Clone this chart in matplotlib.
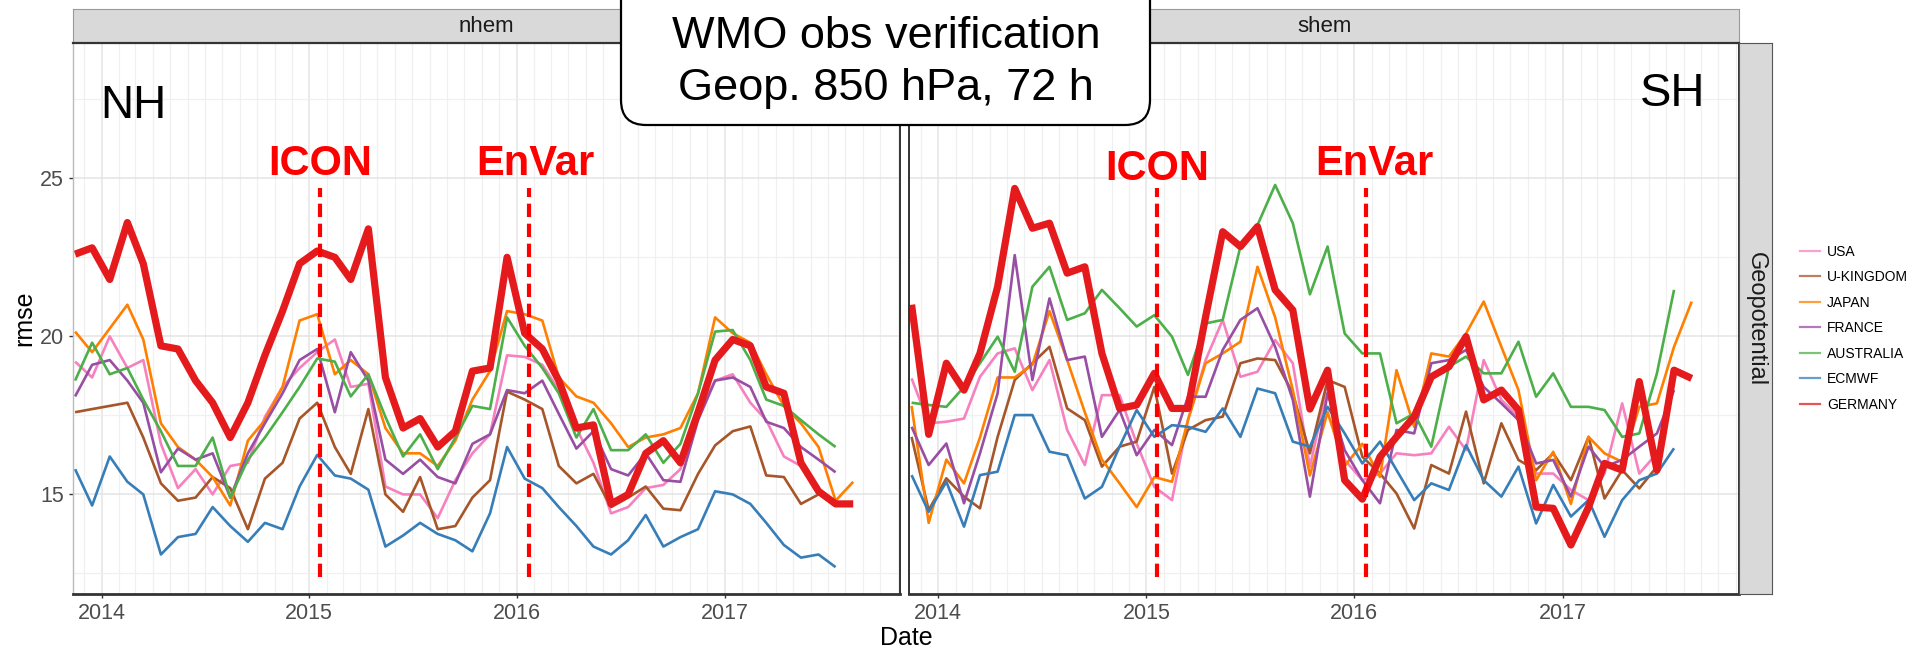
import matplotlib
matplotlib.use("Agg")
import matplotlib.pyplot as plt
import matplotlib.dates as mdates
from matplotlib.lines import Line2D
from matplotlib.patches import FancyBboxPatch
from matplotlib.ticker import FixedLocator
import pandas as pd

plt.rcParams['font.family'] = ['Liberation Sans', 'DejaVu Sans']

# monthly verification scores, Nov 2013 - Aug 2017
months = pd.date_range('2013-11-01', periods=46, freq='MS') + pd.Timedelta(days=14)

countries = ['USA', 'U-KINGDOM', 'JAPAN', 'FRANCE', 'AUSTRALIA', 'ECMWF', 'GERMANY']
colors = ['#F781BF', '#A65628', '#FF7F00', '#984EA3', '#4DAF4A', '#377EB8', '#E41A1C']

nhem_usa = [19.2, 18.7, 20.0, 19.0, 19.25, 16.6, 15.2, 15.8, 15.0, 15.9,
            16.0, 17.45, 18.4, 19.0, 19.5, 19.9, 18.4, 18.5, 15.25, 15.0,
            15.0, 14.25, 15.45, 16.3, 16.9, 19.4, 19.35, 19.1, 18.3, 17.1,
            16.0, 14.4, 14.6, 15.2, 15.3, 15.8, 17.55, 18.6, 18.8, 17.9,
            17.35, 16.2, 15.9, 15.2]
nhem_uk = [17.6, 17.7, 17.8, 17.9, 16.8, 15.35, 14.8, 14.9, 15.55, 15.2,
           13.9, 15.5, 16.0, 17.4, 17.9, 16.5, 15.65, 17.7, 15.0, 14.45,
           15.55, 13.9, 14.0, 14.9, 15.45, 18.25, 18.0, 17.7, 15.9, 15.35,
           15.65, 14.6, 14.9, 15.25, 14.55, 14.5, 15.65, 16.55, 17.0, 17.15,
           15.6, 15.55, 14.7, 15.0]
nhem_japan = [20.15, 19.5, 20.25, 21.0, 19.9, 17.25, 16.5, 16.1, 15.55, 14.65,
              16.7, 17.35, 18.4, 20.5, 20.7, 18.8, 19.25, 18.8, 17.1, 16.3,
              16.3, 15.9, 16.7, 18.0, 18.9, 20.8, 20.7, 20.5, 18.7, 18.1,
              17.9, 17.25, 16.5, 16.8, 16.9, 17.1, 18.2, 20.6, 20.1, 19.8,
              18.8, 17.8, 17.25, 16.5, 14.8, 15.4]
nhem_france = [18.1, 19.1, 19.25, 18.6, 17.9, 15.7, 16.45, 16.1, 16.3, 14.9,
               16.3, 17.25, 18.2, 19.25, 19.6, 17.6, 19.5, 18.6, 16.1, 15.65,
               16.1, 15.55, 15.35, 16.6, 16.9, 18.3, 18.2, 18.6, 17.55, 16.45,
               17.0, 15.8, 15.6, 16.3, 15.45, 15.4, 17.35, 18.6, 18.7, 18.4,
               17.3, 17.1, 16.5, 16.1, 15.7]
nhem_australia = [18.6, 19.8, 18.8, 19.0, 18.0, 17.0, 15.9, 15.9, 16.8, 14.9,
                  16.1, 16.8, 17.6, 18.4, 19.3, 19.2, 18.1, 18.8, 17.45, 16.2,
                  16.9, 15.8, 16.8, 17.8, 17.7, 20.6, 19.7, 19.0, 18.2, 16.8,
                  17.7, 16.4, 16.4, 16.9, 16.0, 16.6, 18.2, 20.15, 20.2, 19.25,
                  18.0, 17.8, 17.35, 16.9, 16.5]
nhem_ecmwf = [15.8, 14.65, 16.2, 15.4, 15.0, 13.1, 13.65, 13.75, 14.6, 14.0,
              13.5, 14.1, 13.9, 15.25, 16.25, 15.6, 15.5, 15.15, 13.35, 13.7,
              14.1, 13.75, 13.55, 13.2, 14.4, 16.5, 15.5, 15.2, 14.6, 14.0,
              13.35, 13.1, 13.55, 14.35, 13.35, 13.65, 13.9, 15.1, 15.0, 14.7,
              14.1, 13.4, 13.0, 13.1, 12.7]
nhem_germany = [22.6, 22.8, 21.8, 23.6, 22.3, 19.7, 19.6, 18.6, 17.9, 16.8,
                17.9, 19.4, 20.8, 22.3, 22.7, 22.5, 21.8, 23.4, 18.7, 17.1,
                17.4, 16.5, 17.0, 18.9, 19.0, 22.5, 20.1, 19.6, 18.6, 17.1,
                17.2, 14.7, 15.0, 16.3, 16.7, 16.0, 17.6, 19.25, 19.9, 19.7,
                18.4, 18.2, 16.0, 15.1, 14.7, 14.7]

shem_usa = [18.67, 17.25, 17.3, 17.4, 18.72, 19.46, 19.62, 18.3, 19.25, 17.04,
            15.93, 18.14, 18.14, 16.61, 15.24, 14.82, 17.35, 19.25, 20.52, 18.72,
            18.88, 19.88, 19.15, 15.88, 18.4, 16.09, 15.45, 15.66, 16.3, 16.24,
            16.3, 17.14, 16.4, 19.25, 17.99, 17.46, 15.66, 15.66, 15.14, 14.82,
            15.66, 17.88, 15.66, 16.3]
shem_uk = [16.82, 14.5, 15.51, 14.93, 14.56, 16.82, 18.62, 19.15, 19.67, 17.72,
           17.35, 15.88, 16.51, 16.67, 18.4, 15.66, 17.04, 17.35, 17.46, 19.15,
           19.3, 19.25, 18.2, 16.3, 18.62, 18.4, 16.19, 15.66, 15.03, 13.92,
           15.93, 15.66, 17.62, 15.35, 17.25, 16.09, 15.77, 16.3, 15.45, 16.82,
           14.87, 15.77, 15.19, 15.88]
shem_japan = [17.8, 14.1, 16.1, 15.35, 16.8, 18.7, 18.7, 19.1, 20.8, 19.25,
              17.6, 16.1, 15.35, 14.6, 15.55, 15.4, 17.35, 19.15, 19.46, 19.83,
              22.2, 20.6, 18.3, 15.6, 17.6, 15.9, 16.6, 15.55, 18.93, 17.14,
              19.46, 19.36, 20.09, 21.1, 19.67, 18.3, 15.45, 16.35, 14.7, 16.82,
              16.3, 16.03, 17.77, 17.88, 19.67, 21.1]
shem_france = [17.14, 15.93, 16.61, 14.72, 16.3, 18.2, 22.57, 18.62, 21.2, 19.25,
               19.36, 16.82, 17.67, 16.24, 17.04, 16.56, 18.09, 18.09, 19.57, 20.52,
               20.89, 19.67, 17.99, 14.93, 18.2, 16.4, 15.45, 14.72, 17.04, 16.93,
               19.15, 19.25, 19.57, 18.4, 17.88, 17.35, 15.98, 16.09, 14.93, 16.51,
               15.88, 16.09, 16.51, 16.93, 18.3]
shem_australia = [17.9, 17.83, 17.77, 18.4, 19.15, 19.99, 18.88, 21.57, 22.2, 20.52,
                  20.73, 21.47, 20.89, 20.31, 20.67, 19.99, 18.78, 20.41, 20.52, 22.84,
                  23.52, 24.79, 23.58, 21.33, 22.84, 20.09, 19.46, 19.46, 17.25, 17.56,
                  16.51, 19.04, 19.36, 18.83, 18.83, 19.83, 18.09, 18.83, 17.77, 17.77,
                  17.67, 16.82, 16.93, 18.83, 21.47]
shem_ecmwf = [15.61, 14.45, 15.4, 13.98, 15.61, 15.72, 17.51, 17.51, 16.35, 16.24,
              14.87, 15.24, 16.51, 17.67, 16.82, 17.19, 17.14, 16.98, 17.72, 16.82,
              18.35, 18.2, 16.67, 16.51, 17.77, 16.93, 15.98, 16.67, 15.77, 14.82,
              15.35, 15.14, 16.56, 15.45, 14.93, 15.88, 14.08, 15.3, 14.3, 14.82,
              13.66, 14.82, 15.45, 15.66, 16.46]
shem_germany = [21.0, 16.9, 19.15, 18.3, 19.46, 21.57, 24.68, 23.42, 23.58, 22.0,
                22.2, 19.46, 17.72, 17.83, 18.83, 17.72, 17.72, 20.62, 23.31, 22.84,
                23.47, 21.47, 20.83, 17.7, 18.93, 15.45, 14.85, 16.19, 16.82, 17.46,
                18.72, 19.04, 19.99, 17.99, 18.3, 17.67, 14.6, 14.56, 13.4, 14.6,
                15.98, 15.77, 18.57, 15.77, 18.93, 18.67]

nhem = [nhem_usa, nhem_uk, nhem_japan, nhem_france, nhem_australia, nhem_ecmwf, nhem_germany]
shem = [shem_usa, shem_uk, shem_japan, shem_france, shem_australia, shem_ecmwf, shem_germany]

# model changes at DWD
events = ['ICON', 'EnVar']
event_dates = [pd.Timestamp('2015-01-20'), pd.Timestamp('2016-01-22')]
event_range = (12.4, 24.7)

W, H = 1909, 647
fig = plt.figure(figsize=(W / 100, H / 100), dpi=100)


def px_axes(x0, y0, x1, y1):
    # pixel box measured from top-left corner
    return fig.add_axes([x0 / W, 1 - y1 / H, (x1 - x0) / W, (y1 - y0) / H])


ax_n = px_axes(72.8, 43.3, 900.4, 594)
ax_s = px_axes(909.3, 43.3, 1739, 594)

for ax, data, name in [(ax_n, nhem, 'nhem'), (ax_s, shem, 'shem')]:
    ax.set_xlim(pd.Timestamp('2013-11-11'), pd.Timestamp('2017-11-06'))
    ax.set_ylim(11.85, 29.27)
    ax.xaxis.set_major_locator(mdates.YearLocator())
    ax.xaxis.set_major_formatter(mdates.DateFormatter('%Y'))
    ax.xaxis.set_minor_locator(mdates.MonthLocator())
    ax.yaxis.set_major_locator(FixedLocator([15, 20, 25]))
    ax.yaxis.set_minor_locator(FixedLocator([12.5, 17.5, 22.5, 27.5]))
    ax.grid(which='major', color='#E4E4E4', lw=1.1)
    ax.grid(which='minor', color='#F0F0F0', lw=0.9)
    ax.set_axisbelow(True)
    ax.tick_params(which='major', length=2.9, width=1, color='#333333',
                   labelsize=15.5, labelcolor='#4D4D4D', pad=3.6)
    ax.tick_params(which='minor', length=0)
    for side in ['top', 'right', 'bottom', 'left']:
        ax.spines[side].set_color('#333333')
        ax.spines[side].set_linewidth(1.4)
    ax.spines['bottom'].set_linewidth(2)

    for vals, country, col in zip(data, countries, colors):
        lw = 5.2 if country == 'GERMANY' else 1.9
        ax.plot(months[:len(vals)], vals, color=col, lw=lw, solid_joinstyle='round',
                solid_capstyle='butt', label=country)

    ax.vlines(event_dates, event_range[0], event_range[1], colors='#FF0000', lw=3,
              linestyles=(0, (3.2, 1.6)), zorder=5)

    # strip on top
    st = px_axes(72.8 if name == 'nhem' else 909.3, 9.3,
                 900.4 if name == 'nhem' else 1739, 43.3)
    st.set_facecolor('#D9D9D9')
    st.set_xticks([])
    st.set_yticks([])
    for s in st.spines.values():
        s.set_color('#9A9A9A')
    st.spines['bottom'].set_color('#333333')
    st.spines['bottom'].set_linewidth(1.6)
    st.text(0.5, 0.5, name, ha='center', va='center', fontsize=16, color='#1A1A1A',
            transform=st.transAxes)

ax_n.spines['left'].set_color('#BBBBBB')
ax_n.spines['left'].set_linewidth(1)
ax_s.tick_params(axis='y', labelleft=False, length=0)

# event labels
ax_n.text(event_dates[0], 25.1, events[0], ha='center', va='baseline', fontsize=30,
          fontweight='bold', color='#FF0000')
ax_n.annotate(events[1], (event_dates[1], 25.1), xytext=(5, 0), textcoords='offset points',
              ha='center', va='baseline', fontsize=30, fontweight='bold', color='#FF0000')
ax_s.text(event_dates[0], 24.95, events[0], ha='center', va='baseline', fontsize=30,
          fontweight='bold', color='#FF0000')
ax_s.annotate(events[1], (event_dates[1], 25.1), xytext=(6, 0), textcoords='offset points',
              ha='center', va='baseline', fontsize=30, fontweight='bold', color='#FF0000')

# right strip
rs = px_axes(1739, 43.3, 1772.3, 594)
rs.set_facecolor('#D9D9D9')
rs.set_xticks([])
rs.set_yticks([])
for s in rs.spines.values():
    s.set_color('#555555')
rs.text(0.5, 0.5, 'Geopotential', rotation=-90, ha='center', va='center', fontsize=17,
        color='#1A1A1A', transform=rs.transAxes)

fig.text(100 / W, 1 - 118 / H, 'NH', ha='left', va='baseline', fontsize=33)
fig.text(1705 / W, 1 - 106 / H, 'SH', ha='right', va='baseline', fontsize=34)

fig.text(24 / W, 1 - 318 / H, 'rmse', rotation=90, ha='center', va='center', fontsize=18)
fig.text(906 / W, 1 - 645 / H, 'Date', ha='center', va='baseline', fontsize=18)

# title box
box = FancyBboxPatch((6.21, 5.22), 5.29, 1.6, boxstyle='round,pad=0,rounding_size=0.25',
                     transform=fig.dpi_scale_trans, facecolor='white', edgecolor='black',
                     lw=1.6, zorder=10)
fig.add_artist(box)
fig.text(886 / W, 1 - 48 / H, 'WMO obs verification', ha='center', va='baseline',
         fontsize=32.5, zorder=11)
fig.text(886 / W, 1 - 100 / H, 'Geop. 850 hPa, 72 h', ha='center', va='baseline',
         fontsize=32.5, zorder=11)

handles = [Line2D([], [], color=c, lw=1.6, alpha=0.75) for c in colors]
fig.legend(handles, countries, loc='upper left', bbox_to_anchor=(1800 / W, 1 - 244.7 / H),
           frameon=False, fontsize=10, handlelength=1.45, handletextpad=0.5,
           labelspacing=0.83, borderpad=0, borderaxespad=0)

fig.savefig('out.png', dpi=100)
